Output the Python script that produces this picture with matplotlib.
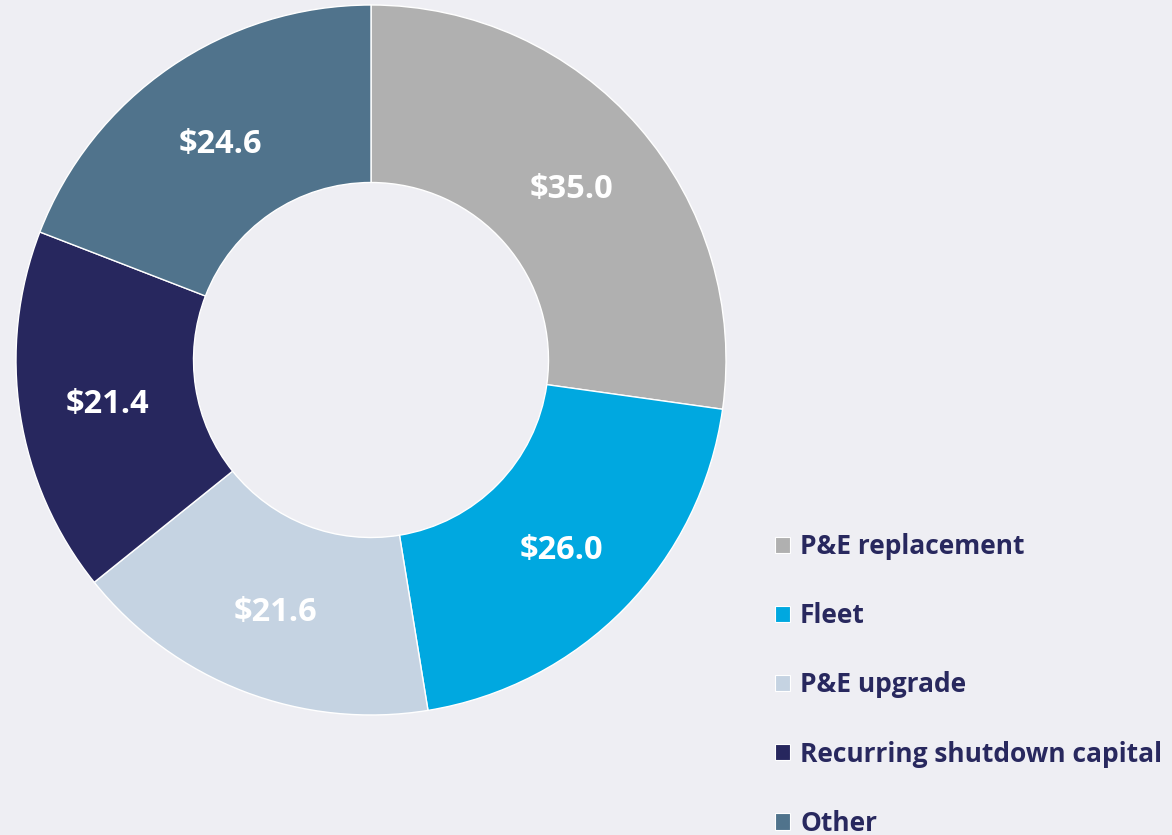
import numpy as np
import matplotlib.pyplot as plt
from matplotlib.patches import Patch

categories = ["P&E replacement", "Fleet", "P&E upgrade", "Recurring shutdown capital", "Other"]
values = [35.0, 26.0, 21.6, 21.4, 24.6]
colors = ["#B0B0B0", "#00A8E0", "#C5D3E2", "#27275E", "#50738C"]

bg = "#EEEEF3"
navy = "#28285E"

fig = plt.figure(figsize=(11.72, 8.35), dpi=100, facecolor=bg)
# axes placed so the donut sits at the left, as in the original slide
ax = fig.add_axes([16 / 1172, 120 / 835, 710 / 1172, 710 / 835])
ax.set_facecolor(bg)

wedges, _ = ax.pie(values, colors=colors, startangle=90, counterclock=False,
                   radius=1.0, wedgeprops=dict(width=0.5, edgecolor="white", linewidth=1))

for w, v in zip(wedges, values):
    ang = np.deg2rad((w.theta1 + w.theta2) / 2)
    ax.text(0.75 * np.cos(ang), 0.75 * np.sin(ang), "${:.1f}".format(v),
            ha="center", va="center_baseline", color="white", fontsize=23.5,
            fontweight="bold", family="Open Sans")

ax.set_xlim(-1, 1)
ax.set_ylim(-1, 1)
ax.set_aspect("equal")
ax.axis("off")

handles = [Patch(facecolor=c, edgecolor="white", linewidth=0.8) for c in colors]
leg = fig.legend(handles, categories, loc="upper left", bbox_to_anchor=(775 / 1172, 1 - 533 / 835),
                 frameon=False, handlelength=0.57, handleheight=0.57, handletextpad=0.38,
                 labelspacing=1.6, borderpad=0, borderaxespad=0,
                 prop=dict(family="Open Sans", weight="bold", size=19))
for t in leg.get_texts():
    t.set_color(navy)

fig.savefig("out.png", dpi=100, facecolor=bg)
